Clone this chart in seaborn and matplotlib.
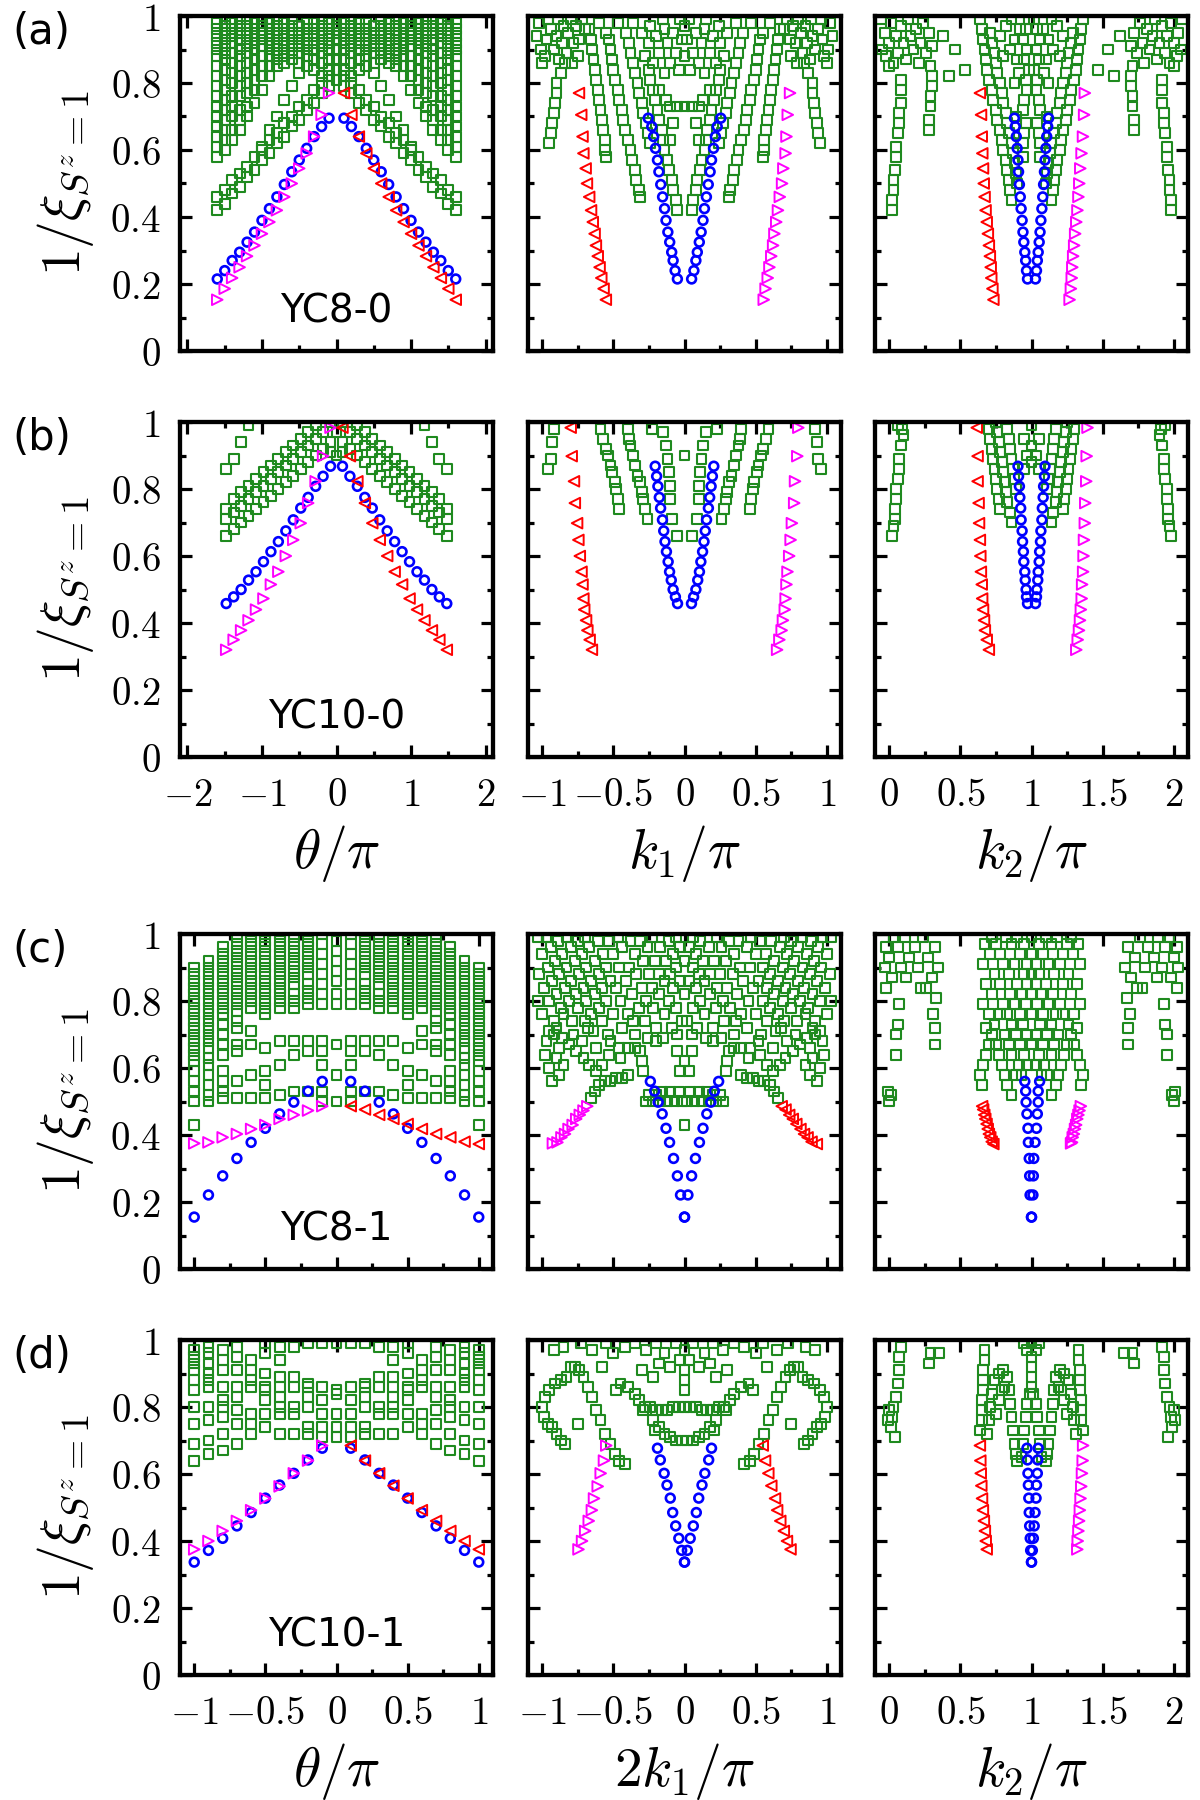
import matplotlib
matplotlib.use("Agg")
import matplotlib.pyplot as plt
import seaborn as sns
import pandas as pd
from matplotlib.ticker import MultipleLocator

sns.set_theme(style="ticks", rc={"axes.edgecolor": "black", "xtick.color": "black",
                                 "ytick.color": "black", "text.color": "black",
                                 "axes.labelcolor": "black"})
plt.rcParams["font.family"] = ["DejaVu Sans"]
plt.rcParams["mathtext.fontset"] = "cm"

GREEN = "#1f8a1f"
BLUE = "#0000ff"
RED = "#ff0000"
MAGENTA = "#ff00ff"

# ---------------- row (a) YC8-0 ----------------
TH_A_L = [-1.6, -1.5, -1.4, -1.3, -1.2, -1.1, -1.0, -0.9, -0.8, -0.7, -0.6, -0.5, -0.4, -0.3, -0.2, -0.1]
TH_A_R = [0.1, 0.2, 0.3, 0.4, 0.5, 0.6, 0.7, 0.8, 0.9, 1.0, 1.1, 1.2, 1.3, 1.4, 1.5, 1.6]
Y_A_BLUE = [0.215, 0.24, 0.27, 0.295, 0.325, 0.355, 0.39, 0.425, 0.46, 0.497, 0.535, 0.57, 0.605, 0.64, 0.67, 0.695,
            0.695, 0.67, 0.64, 0.605, 0.57, 0.535, 0.497, 0.46, 0.425, 0.39, 0.355, 0.325, 0.295, 0.27, 0.24, 0.215]
K1_A_BLUE = [0.05, 0.066, 0.08, 0.09, 0.104, 0.117, 0.13, 0.14, 0.154, 0.167, 0.18, 0.19, 0.204, 0.217, 0.23, 0.255,
             -0.255, -0.23, -0.217, -0.204, -0.19, -0.18, -0.167, -0.154, -0.14, -0.13, -0.117, -0.104, -0.09, -0.08, -0.066, -0.05]
K2_A_BLUE = [1.028, 1.035, 1.041, 1.047, 1.054, 1.06, 1.066, 1.073, 1.079, 1.085, 1.091, 1.095, 1.101, 1.107, 1.114, 1.12,
             0.88, 0.886, 0.893, 0.899, 0.905, 0.909, 0.915, 0.921, 0.927, 0.934, 0.94, 0.946, 0.953, 0.959, 0.965, 0.972]
Y_A_MAG = [0.153, 0.186, 0.218, 0.25, 0.283, 0.315, 0.35, 0.385, 0.42, 0.46, 0.5, 0.545, 0.59, 0.64, 0.705, 0.77]
K1_A_MAG = [0.557, 0.57, 0.585, 0.597, 0.61, 0.623, 0.632, 0.645, 0.657, 0.67, 0.686, 0.695, 0.711, 0.717, 0.726, 0.742]
K2_A_MAG = [1.268, 1.277, 1.283, 1.287, 1.293, 1.30, 1.307, 1.315, 1.323, 1.33, 1.336, 1.343, 1.352, 1.362, 1.37, 1.375]
Y_A_RED = [0.77, 0.705, 0.64, 0.59, 0.545, 0.5, 0.46, 0.42, 0.385, 0.35, 0.315, 0.283, 0.25, 0.218, 0.186, 0.153]
K1_A_RED = [-0.742, -0.726, -0.717, -0.711, -0.695, -0.686, -0.67, -0.657, -0.645, -0.632, -0.623, -0.61, -0.597, -0.585, -0.569, -0.553]
K2_A_RED = [0.637, 0.645, 0.65, 0.654, 0.659, 0.664, 0.67, 0.677, 0.685, 0.693, 0.70, 0.707, 0.713, 0.717, 0.725, 0.732]

# green squares, theta panel: one list per theta column (values x100)
GA_TH_Y = [
    [42, 46, 58, 61, 64, 67, 70, 73, 76, 79, 82, 85, 88, 90, 92, 94, 96, 98],
    [44, 48, 60, 63, 66, 69, 72, 75, 78, 81, 84, 87, 89, 91, 93, 95, 97, 99],
    [47, 51, 63, 66, 70, 73, 76, 80, 83, 86, 89, 92, 94, 96, 98],
    [49, 53, 66, 69, 72, 76, 79, 82, 85, 88, 90, 93, 95, 97, 99],
    [52, 55, 70, 73, 77, 80, 83, 86, 89, 91, 93, 95, 97, 99],
    [54, 58, 74, 78, 81, 84, 87, 90, 92, 94, 96, 98],
    [57, 60, 61, 78, 82, 85, 88, 91, 93, 95, 97, 99],
    [59, 63, 66, 82, 85, 88, 90, 92, 94, 96, 98],
    [62, 65, 70, 85, 87, 89, 91, 93, 95, 97, 99],
    [64, 68, 75, 86, 88, 90, 92, 94, 96, 98],
    [67, 70, 79, 87, 89, 91, 93, 95, 97, 99],
    [69, 73, 83, 86, 89, 91, 93, 95, 97],
    [72, 75, 85, 88, 90, 92, 94, 96, 98],
    [74, 78, 84, 87, 90, 92, 94, 96, 98],
    [77, 80, 82, 86, 89, 91, 93, 95, 97, 99],
    [79, 82, 84, 87, 90, 92, 94, 96, 98],
    [81, 84, 87, 90, 93, 95, 97, 99],
    [79, 82, 84, 87, 90, 92, 94, 96, 98],
    [77, 80, 82, 86, 89, 91, 93, 95, 97, 99],
    [74, 78, 84, 87, 90, 92, 94, 96, 98],
    [72, 75, 85, 88, 90, 92, 94, 96, 98],
    [69, 73, 83, 86, 89, 91, 93, 95, 97],
    [67, 70, 79, 87, 89, 91, 93, 95, 97, 99],
    [64, 68, 75, 86, 88, 90, 92, 94, 96, 98],
    [62, 65, 70, 85, 87, 89, 91, 93, 95, 97, 99],
    [59, 63, 66, 82, 85, 88, 90, 92, 94, 96, 98],
    [57, 60, 61, 78, 82, 85, 88, 91, 93, 95, 97, 99],
    [54, 58, 74, 78, 81, 84, 87, 90, 92, 94, 96, 98],
    [52, 55, 70, 73, 77, 80, 83, 86, 89, 91, 93, 95, 97, 99],
    [49, 53, 66, 69, 72, 76, 79, 82, 85, 88, 90, 93, 95, 97, 99],
    [47, 51, 63, 66, 70, 73, 76, 80, 83, 86, 89, 92, 94, 96, 98],
    [44, 48, 60, 63, 66, 69, 72, 75, 78, 81, 84, 87, 89, 91, 93, 95, 97, 99],
    [42, 46, 58, 61, 64, 67, 70, 73, 76, 79, 82, 85, 88, 90, 92, 94, 96, 98],
]
# green squares, momentum panels: (y x100, [x x100, ...]) rows
GA_K1_ROWS = [
    (42, [-5, 5]), (45, [-6, 6]), (46, [-31, 31]), (48, [-8, -32, 8, 32]),
    (51, [-9, -34, 9, 34]), (54, [-11, -35, 11, 35]), (57, [-12, -37, 12, 37]),
    (58, [-55, 55]), (60, [-14, -38, -56, 14, 38, 56]), (62, [-95, -24, 95, 24]),
    (63, [-15, -40, -10, -56, 15, 40, 10, 56]), (65, [-94, -26, 94, 26]),
    (66, [-16, -42, -57, 16, 42, 57]), (68, [-93, -27, -8, 93, 27, 8]),
    (69, [-18, -43, -58, 18, 43, 58]), (71, [-92, -29, 92, 29]),
    (72, [-19, -44, -59, 19, 44, 59]), (73, [-10, -5, 0, 5, 10]), (74, [-91, -30, 91, 30]),
    (75, [-21, -46, -60, -13, 21, 46, 60, 13]), (77, [-90, -32, 90, 32]),
    (78, [-22, -47, -61, -18, 22, 47, 61, 18]), (80, [-90, -33, 90, 33]),
    (81, [-24, -49, -62, 24, 49, 62]), (83, [-87, -35, -14, 87, 35, 14]),
    (84, [-25, -50, -63, -4, 25, 50, 63, 4]),
    (86, [-100, -84, -79, -36, -22, -10, 100, 84, 79, 36, 22, 10]),
    (87, [-88, -51, -64, 88, 51, 64]), (88, [-98, -75, -28, 0, 98, 75, 28]),
    (89, [-83, -38, -18, -6, 83, 38, 18, 6]), (90, [-101, -92, -52, -65, 101, 92, 52, 65]),
    (92, [-86, -78, -39, -25, -12, 86, 78, 39, 25, 12]),
    (93, [-97, -74, -53, -66, -2, 97, 74, 53, 66, 2]), (94, [-90, -20, -104, 90, 20, 104]),
    (95, [-82, -41, -55, -30, -8, 82, 41, 55, 30, 8]), (96, [-94, -67, -70, -14, 94, 67, 70, 14]),
    (97, [-85, -76, -24, 0, 85, 76, 24]), (98, [-102, -60, -47, -36, 102, 60, 47, 36]),
    (99, [-96, -89, -80, -72, -15, -3, 96, 89, 80, 72, 15, 3]),
]
GA_K2_ROWS = [
    (42, [2, 198]), (45, [2, 86, 198, 114]), (48, [3, 85, 197, 115]), (50, [90, 110]),
    (51, [3, 84, 197, 116]), (53, [89, 111]), (54, [4, 83, 196, 117]), (56, [88, 112]),
    (57, [82, 118]), (58, [5, 94, 195, 106]), (59, [87, 113]), (60, [80, 120]), (61, [5, 195]),
    (62, [86, 94, 114, 106]), (63, [79, 121]), (65, [6, 84, 95, 194, 116, 105]),
    (66, [28, 78, 172, 122]), (68, [7, 83, 96, 193, 117, 104]), (69, [28, 76, 172, 124]),
    (70, [89, 111]), (71, [7, 82, 193, 118]), (72, [75, 94, 125, 106]), (73, [29, 171]),
    (74, [8, 80, 192, 120]), (75, [73, 95, 127, 105]), (76, [29, 171]), (77, [79, 121]),
    (78, [8, 72, 97, 192, 128, 103]), (79, [30, 170]), (80, [78, 88, 122, 112]),
    (81, [8, 70, 96, 192, 130, 104]), (82, [30, 42, 170, 158]), (83, [76, 91, 124, 109]),
    (84, [69, 98, 53, 131, 102, 147]), (85, [0, 29, 200, 171]), (86, [3, 21, 75, 179, 197, 125]),
    (87, [12, 68, 95, 90, 188, 132, 105, 110]), (88, [-2, 80, 202, 120]),
    (89, [6, 26, 74, 194, 174, 126]), (90, [-5, 17, 46, 67, 85, 97, 205, 183, 154, 133, 115, 103]),
    (91, [30, 170]), (92, [0, 10, 22, 72, 200, 190, 178, 128]), (93, [66, 88, 94, 134, 112, 106]),
    (94, [5, 15, 38, 78, 195, 185, 162, 122]), (95, [-3, 28, 71, 203, 172, 129]),
    (96, [19, 65, 92, 96, 181, 135, 108, 104]), (97, [8, 82, 192, 118]), (98, [1, 24, 198, 176]),
    (99, [-6, 13, 64, 86, 98, 206, 187, 136, 114, 102]),
]

# ---------------- row (b) YC10-0 ----------------
TH_B_L = [-1.48, -1.38, -1.28, -1.18, -1.08, -0.98, -0.88, -0.78, -0.68, -0.58, -0.48, -0.38, -0.28, -0.18, -0.08]
TH_B_R = [0.08, 0.18, 0.28, 0.38, 0.48, 0.58, 0.68, 0.78, 0.88, 0.98, 1.08, 1.18, 1.28, 1.38, 1.48]
Y_B_BLUE = [0.458, 0.478, 0.50, 0.528, 0.553, 0.583, 0.613, 0.643, 0.675, 0.708, 0.743, 0.775, 0.808, 0.838, 0.868,
            0.868, 0.838, 0.808, 0.775, 0.743, 0.708, 0.675, 0.643, 0.613, 0.583, 0.553, 0.528, 0.50, 0.478, 0.458]
K1_B_BLUE = [0.049, 0.064, 0.08, 0.093, 0.105, 0.115, 0.127, 0.137, 0.146, 0.155, 0.168, 0.177, 0.187, 0.196, 0.206,
             -0.206, -0.196, -0.187, -0.177, -0.168, -0.155, -0.146, -0.137, -0.127, -0.115, -0.105, -0.093, -0.08, -0.064, -0.049]
K2_B_BLUE = [1.028, 1.035, 1.038, 1.044, 1.047, 1.054, 1.057, 1.063, 1.066, 1.073, 1.076, 1.082, 1.085, 1.091, 1.095,
             0.905, 0.909, 0.915, 0.918, 0.924, 0.927, 0.934, 0.937, 0.943, 0.946, 0.953, 0.956, 0.962, 0.965, 0.972]
Y_B_MAG = [0.32, 0.35, 0.378, 0.408, 0.44, 0.473, 0.515, 0.553, 0.60, 0.648, 0.698, 0.758, 0.823, 0.898, 0.983]
K1_B_MAG = [0.651, 0.667, 0.683, 0.692, 0.705, 0.711, 0.717, 0.724, 0.736, 0.746, 0.755, 0.771, 0.777, 0.793, 0.80]
K2_B_MAG = [1.315, 1.325, 1.334, 1.341, 1.347, 1.353, 1.356, 1.363, 1.366, 1.369, 1.375, 1.378, 1.385, 1.388, 1.394]
Y_B_RED = [0.983, 0.898, 0.823, 0.758, 0.698, 0.648, 0.60, 0.553, 0.515, 0.473, 0.44, 0.408, 0.378, 0.35, 0.32]
K1_B_RED = [-0.80, -0.793, -0.777, -0.771, -0.755, -0.746, -0.736, -0.724, -0.717, -0.711, -0.705, -0.692, -0.683, -0.667, -0.651]
K2_B_RED = [0.615, 0.621, 0.621, 0.628, 0.631, 0.637, 0.64, 0.644, 0.65, 0.653, 0.659, 0.666, 0.672, 0.685, 0.70]

GB_TH_Y = [
    [66, 71, 74, 86], [68, 73, 77, 89], [70, 75, 79, 94], [72, 77, 81, 99],
    [74, 79, 83], [76, 81, 85], [78, 83, 87], [80, 85, 89], [82, 87, 91],
    [84, 89, 93], [86, 91, 95], [88, 93, 97], [90, 95, 99], [92, 97],
    [91, 94, 100],
    [90, 97],
    [91, 94, 100],
    [92, 97], [90, 95, 99], [88, 93, 97], [86, 91, 95], [84, 89, 93],
    [82, 87, 91], [80, 85, 89], [78, 83, 87], [76, 81, 85], [74, 79, 83],
    [72, 77, 81, 99], [70, 75, 79, 94], [68, 73, 77, 89], [66, 71, 74, 86],
]
GB_K1_ROWS = [
    (66, [-5, 5]), (71, [-26, -9, 26, 9]), (74, [-28, -46, 28, 46]), (77, [-29, -47, -10, 29, 47, 10]),
    (79, [-30, 30]), (80, [-48, 48]), (81, [-10, 10]), (82, [-31, -49, 31, 49]), (84, [-33, 33]),
    (85, [-51, -11, 51, 11]), (86, [-96, 96]), (87, [-35, -52, 35, 52]), (89, [-94, -12, 94, 12]),
    (90, [-36, -54, 0, 36, 54]), (92, [-55, 55]), (93, [-38, -13, 38, 13]), (94, [-93, 93]),
    (95, [-39, -57, 39, 57]), (97, [-15, 15]), (98, [-92, -40, -59, -23, 92, 40, 59, 23]),
]
GB_K2_ROWS = [
    (66, [2, 198]), (69, [3, 197]), (70, [86, 114]), (71, [4, 196]), (73, [85, 115]),
    (74, [4, 78, 196, 122]), (76, [83, 117]), (77, [5, 77, 195, 123]), (79, [82, 118]),
    (80, [5, 76, 89, 195, 124, 111]), (82, [81, 119]), (83, [6, 75, 88, 194, 125, 112]),
    (85, [80, 120]), (86, [7, 74, 87, 95, 193, 126, 113, 105]), (88, [79, 100, 121]),
    (89, [7, 73, 86, 193, 127, 114]), (90, [97, 103]), (91, [78, 122]), (92, [72, 85, 128, 115]),
    (93, [8, 100, 192]), (94, [77, 123]), (95, [71, 84, 95, 129, 116, 105]), (96, [10, 190]),
    (97, [76, 124]), (98, [9, 70, 83, 191, 130, 117]), (99, [6, 100, 194]), (100, [75, 125]),
]

# ---------------- row (c) YC8-1 ----------------
TH_C_L = [-1.0, -0.9, -0.8, -0.7, -0.6, -0.5, -0.4, -0.3, -0.2, -0.1]
TH_C_R = [0.1, 0.2, 0.3, 0.4, 0.5, 0.6, 0.7, 0.8, 0.9, 1.0]
Y_C_BLUE = [0.155, 0.221, 0.278, 0.33, 0.378, 0.42, 0.463, 0.498, 0.531, 0.56,
            0.56, 0.531, 0.498, 0.463, 0.42, 0.378, 0.33, 0.278, 0.221, 0.155]
K1_C_BLUE = [0.0, 0.024, 0.05, 0.077, 0.105, 0.13, 0.157, 0.185, 0.21, 0.24,
             -0.24, -0.21, -0.185, -0.157, -0.13, -0.105, -0.077, -0.05, -0.028, 0.0]
K2_C_BLUE = [1.0, 1.01, 1.013, 1.016, 1.025, 1.035, 1.041, 1.047, 1.047, 1.057,
             0.953, 0.959, 0.962, 0.968, 0.975, 0.978, 0.984, 0.987, 0.99, 1.0]
Y_C_MAG = [0.375, 0.378, 0.393, 0.403, 0.418, 0.43, 0.448, 0.46, 0.473, 0.486]
K1_C_MAG = [-0.925, -0.893, -0.865, -0.84, -0.815, -0.786, -0.761, -0.736, -0.71, -0.683]
K2_C_MAG = [1.278, 1.285, 1.29, 1.298, 1.306, 1.314, 1.322, 1.33, 1.338, 1.347]
Y_C_RED = [0.486, 0.476, 0.46, 0.448, 0.433, 0.418, 0.403, 0.393, 0.38, 0.373]
K1_C_RED = [0.683, 0.71, 0.736, 0.761, 0.786, 0.815, 0.84, 0.865, 0.893, 0.93]
K2_C_RED = [0.653, 0.66, 0.668, 0.675, 0.684, 0.692, 0.70, 0.71, 0.72, 0.732]

GC_TH_Y = [
    [43, 50, 53, 56, 59, 62, 64, 66, 68, 70, 72, 74, 76, 78, 80, 82, 84, 86, 88, 90],
    [50, 52, 55, 58, 61, 63, 66, 68, 70, 72, 74, 76, 78, 80, 82, 84, 86, 88, 90, 92],
    [51, 53, 56, 59, 64, 67, 70, 73, 76, 78, 80, 82, 84, 86, 88, 90, 92, 94, 96],
    [51, 56, 65, 67, 72, 74, 77, 79, 81, 83, 85, 87, 89, 91, 93, 95, 97, 99],
    [51, 58, 67, 71, 78, 80, 82, 84, 86, 88, 90, 92, 94, 96, 98, 100],
    [51, 55, 59, 66, 76, 78, 80, 82, 84, 86, 88, 90, 92, 94, 96, 98, 100],
    [52, 61, 68, 78, 80, 82, 84, 86, 88, 90, 92, 94, 96, 98, 100],
    [53, 64, 68, 78, 80, 82, 85, 87, 89, 91, 93, 95, 97, 99],
    [53, 65, 68, 79, 81, 83, 85, 88, 90, 92, 94, 96, 98, 100],
    [50, 53, 61, 65, 68, 79, 82, 85, 88, 91, 94, 97, 100],
    [50, 58, 67, 79, 82, 86, 89, 92, 95, 98],
    [50, 53, 61, 65, 68, 79, 82, 85, 88, 91, 94, 97, 100],
    [53, 65, 68, 79, 81, 83, 85, 88, 90, 92, 94, 96, 98, 100],
    [53, 64, 68, 78, 80, 82, 85, 87, 89, 91, 93, 95, 97, 99],
    [52, 61, 68, 78, 80, 82, 84, 86, 88, 90, 92, 94, 96, 98, 100],
    [51, 55, 59, 66, 76, 78, 80, 82, 84, 86, 88, 90, 92, 94, 96, 98, 100],
    [51, 58, 67, 71, 78, 80, 82, 84, 86, 88, 90, 92, 94, 96, 98, 100],
    [51, 56, 65, 67, 72, 74, 77, 79, 81, 83, 85, 87, 89, 91, 93, 95, 97, 99],
    [51, 53, 56, 59, 64, 67, 70, 73, 76, 78, 80, 82, 84, 86, 88, 90, 92, 94, 96],
    [50, 52, 55, 58, 61, 63, 66, 68, 70, 72, 74, 76, 78, 80, 82, 84, 86, 88, 90, 92],
    [43, 50, 53, 56, 59, 62, 64, 66, 68, 70, 72, 74, 76, 78, 80, 82, 84, 86, 88, 90],
]
GC_K1_ROWS = [
    (43, [0]), (50, [-27, -22, -17, -12, -7, -2, 2, 7, 12, 17, 22, 27]), (51, [-66, 66]),
    (52, [-25, -20, 20, 25]), (53, [-63, -16, -10, -4, 4, 10, 16, 63]), (55, [-60, 60]),
    (56, [-93, -56, -52, 52, 56, 93]), (57, [-48, -44, 44, 48]), (58, [-88, -40, 40, 88]),
    (59, [-62, -29, -3, 3, 29, 62]), (60, [-95, 95]), (61, [-85, -67, -58, 58, 67, 85]),
    (62, [-30, 0, 30]), (63, [-90, -71, -45, 45, 71, 90]), (64, [-98, -53, 53, 98]),
    (65, [-76, -31, -5, 5, 31, 76]), (66, [-88, -62, -46, -40, -35, 35, 40, 46, 62, 88]),
    (67, [-81, 81]), (68, [-97, -72, -52, -20, 20, 52, 72, 97]), (69, [-86, -26, -15, 15, 26, 86]),
    (70, [-92, -78, -54, -35, -5, 5, 35, 54, 78, 92]), (71, [-95, -64, 64, 95]),
    (72, [-90, -68, -44, -20, -9, 9, 20, 44, 68, 90]),
    (74, [-92, -79, -70, -58, -36, -28, -2, 2, 28, 36, 58, 70, 79, 92]),
    (76, [-100, -85, -66, -50, -40, -14, 14, 40, 50, 66, 85, 100]),
    (78, [-87, -75, -60, -32, -22, -6, 6, 22, 32, 60, 75, 87]),
    (80, [-103, -95, -81, -69, -55, -45, -27, -11, 11, 27, 45, 55, 69, 81, 95, 103]),
    (82, [-90, -76, -63, -37, -18, 0, 18, 37, 63, 76, 90]),
    (84, [-99, -84, -71, -58, -48, -30, -23, -8, 8, 23, 30, 48, 58, 71, 84, 99]),
    (86, [-93, -80, -66, -52, -41, -14, -3, 3, 14, 41, 52, 66, 80, 93]),
    (88, [-102, -88, -74, -60, -34, -25, -18, -10, 10, 18, 25, 34, 60, 74, 88, 102]),
    (90, [-96, -83, -69, -55, -46, -39, -6, 6, 39, 46, 55, 69, 83, 96]),
    (92, [-91, -77, -63, -29, -21, -13, 0, 13, 21, 29, 63, 77, 91]),
    (94, [-100, -86, -72, -57, -50, -35, -8, 8, 35, 50, 57, 72, 86, 100]),
    (96, [-94, -80, -67, -44, -26, -17, -3, 3, 17, 26, 44, 67, 80, 94]),
    (98, [-89, -75, -61, -53, -38, -31, -11, 11, 31, 38, 53, 61, 75, 89]),
    (99, [-103, -97, -83, -70, -47, -23, -6, 6, 23, 47, 70, 83, 97, 103]),
]
GC_K2_ROWS = [
    (50, [0, 200]), (52, [1, 86, 114, 199]), (53, [-1, 201]), (55, [65, 83, 117, 135]),
    (58, [64, 81, 89, 93, 107, 111, 119, 136]), (61, [66, 79, 91, 97, 103, 109, 121, 134]),
    (64, [5, 68, 77, 86, 95, 105, 114, 123, 132, 195]),
    (67, [32, 70, 75, 84, 92, 100, 108, 116, 125, 130, 168]),
    (70, [5, 72, 81, 89, 97, 103, 111, 119, 128, 195]), (72, [32, 68, 168, 132]),
    (73, [6, 74, 86, 94, 106, 114, 126, 194]),
    (76, [31, 70, 78, 83, 92, 100, 108, 117, 122, 130, 169]),
    (79, [7, 66, 80, 88, 96, 104, 112, 120, 134, 193]), (81, [33, 167]),
    (82, [72, 85, 93, 100, 107, 115, 128]), (84, [-2, 22, 26, 178, 174, 202]),
    (85, [68, 78, 90, 97, 103, 110, 122, 132]), (87, [2, 12, 30, 198, 188, 170]),
    (88, [74, 84, 95, 100, 105, 116, 126]), (90, [-3, 8, 20, 34, 203, 192, 180, 166]),
    (91, [66, 80, 88, 97, 103, 112, 120, 134]), (93, [0, 14, 27, 200, 186, 173]),
    (94, [71, 78, 92, 100, 108, 122, 129]), (96, [-2, 6, 18, 32, 202, 194, 182, 168]),
    (97, [67, 75, 86, 95, 105, 114, 125, 133]),
    (99, [3, 11, 24, 72, 82, 90, 100, 110, 118, 128, 197, 189, 176]),
]

# ---------------- row (d) YC10-1 ----------------
TH_D_L = [-1.0, -0.9, -0.8, -0.7, -0.6, -0.5, -0.4, -0.3, -0.2, -0.1]
TH_D_R = [0.1, 0.2, 0.3, 0.4, 0.5, 0.6, 0.7, 0.8, 0.9, 1.0]
Y_D_BLUE = [0.337, 0.372, 0.408, 0.445, 0.485, 0.528, 0.567, 0.602, 0.642, 0.677,
            0.677, 0.642, 0.602, 0.567, 0.528, 0.485, 0.445, 0.408, 0.372, 0.337]
K1_D_BLUE = [0.0, 0.02, 0.04, 0.062, 0.083, 0.10, 0.123, 0.143, 0.17, 0.19,
             -0.19, -0.17, -0.143, -0.123, -0.10, -0.083, -0.062, -0.04, -0.02, 0.0]
K2_D_BLUE = [1.0, 1.006, 1.013, 1.019, 1.025, 1.032, 1.035, 1.041, 1.044, 1.047,
             0.968, 0.972, 0.975, 0.978, 0.981, 0.984, 0.987, 0.991, 0.994, 1.0]
Y_D_MAG = [0.375, 0.40, 0.43, 0.46, 0.492, 0.527, 0.563, 0.602, 0.64, 0.685]
K1_D_MAG = [-0.745, -0.72, -0.698, -0.673, -0.651, -0.636, -0.61, -0.589, -0.566, -0.55]
K2_D_MAG = [1.322, 1.325, 1.33, 1.335, 1.34, 1.345, 1.35, 1.355, 1.36, 1.363]
Y_D_RED = [0.685, 0.64, 0.602, 0.565, 0.527, 0.492, 0.46, 0.43, 0.40, 0.375]
K1_D_RED = [0.55, 0.566, 0.589, 0.61, 0.636, 0.651, 0.673, 0.698, 0.72, 0.745]
K2_D_RED = [0.637, 0.64, 0.643, 0.647, 0.652, 0.658, 0.665, 0.672, 0.678, 0.685]

GD_TH_Y = [
    [64, 69, 75, 80, 85, 88, 91, 93, 95, 97], [66, 70, 76, 80, 86, 88, 90, 93, 96, 98],
    [67, 72, 77, 80, 82, 86, 91, 94, 97], [69, 75, 79, 83, 86, 91, 95, 98],
    [72, 75, 78, 86, 88, 91, 94], [74, 78, 82, 85, 86, 90, 96, 99],
    [72, 78, 80, 83, 86, 89, 94, 98], [72, 78, 80, 86, 89, 98],
    [72, 74, 80, 83, 86, 87, 99], [71, 74, 78, 82, 86, 99],
    [71, 74, 78, 84, 85, 99],
    [71, 74, 78, 82, 86, 99], [72, 74, 80, 83, 86, 87, 99],
    [72, 78, 80, 86, 89, 98], [72, 78, 80, 83, 86, 89, 94, 98],
    [74, 78, 82, 85, 86, 90, 96, 99], [72, 75, 78, 86, 88, 91, 94],
    [69, 75, 79, 83, 86, 91, 95, 98], [67, 72, 77, 80, 82, 86, 91, 94, 97],
    [66, 70, 76, 80, 86, 88, 90, 93, 96, 98], [64, 69, 75, 80, 85, 88, 91, 93, 95, 97],
]
GD_K1_ROWS = [
    (63, [-42, 42]), (64, [-46, 46]), (66, [-49, 49]), (69, [-52, -84, 52, 84]),
    (70, [-87, -6, -2, 2, 6, 87]), (71, [-10, 10]), (72, [-56, -90, -14, 14, 56, 90]),
    (73, [-21, 21]), (74, [-93, -18, 18, 93]), (75, [-96, -75, 96, 75]), (76, [-59, -22, 22, 59]),
    (77, [-99, 99]), (79, [-62, -29, -20, -16, -12, 12, 16, 20, 29, 62]),
    (80, [-100, -28, -24, -8, -4, 0, 4, 8, 24, 28, 100]), (82, [-32, 32]), (83, [-98, -65, 65, 98]),
    (84, [-35, 35]), (85, [-95, -48, 0, 48, 95]), (86, [-68, -40, 40, 68]), (87, [-91, -45, 45, 91]),
    (88, [-87, 0, 87]), (89, [-83, -71, -22, 22, 71, 83]), (91, [-74, -30, 0, 30, 74]),
    (92, [-80, -77, -58, -10, 10, 58, 77, 80]), (93, [-18, 18]), (94, [-3, 3]),
    (96, [-50, -14, 14, 50]), (97, [-92, -65, -27, 0, 27, 65, 92]), (98, [-85, -42, 42, 85]),
    (99, [-73, -55, -35, -20, -6, 6, 20, 35, 55, 73]),
]
GD_K2_ROWS = [
    (64, [90, 110]), (65, [93, 107]), (66, [89, 111]), (69, [88, 94, 106, 112]), (71, [4, 196]),
    (72, [69, 131]), (73, [64, 87, 95, 105, 113, 136]), (74, [1, 199]),
    (76, [-1, 65, 70, 135, 130, 201]), (77, [2, 86, 96, 104, 114, 198]), (78, [75, 125]),
    (79, [0, 65, 200, 135]), (80, [3, 71, 197, 129]), (81, [85, 97, 103, 115]),
    (82, [65, 77, 123, 135]), (83, [5, 195]), (84, [72, 99, 101, 128]),
    (85, [66, 79, 84, 116, 121, 134]), (86, [81, 100, 119]), (87, [6, 194]),
    (88, [66, 74, 126, 134]), (89, [83, 100, 117]), (90, [77, 123]),
    (91, [7, 66, 80, 120, 134, 193]), (92, [100]), (93, [28, 172]), (94, [67, 133]),
    (95, [7, 100, 193]), (96, [29, 35, 165, 171]), (97, [67, 97, 103, 133]), (98, [8, 192]),
    (99, [100, 95, 105]),
]


def cols_to_df(xs, cols):
    px, py = [], []
    for x, col in zip(xs, cols):
        px += [x] * len(col)
        py += [v / 100 for v in col]
    return pd.DataFrame({"x": px, "y": py})


def rows_to_df(rows):
    px, py = [], []
    for y, row in rows:
        px += [v / 100 for v in row]
        py += [y / 100] * len(row)
    return pd.DataFrame({"x": px, "y": py})


ROWS = [
    dict(tag="(a)", name="YC8-0", thl=TH_A_L, thr=TH_A_R,
         blue=(Y_A_BLUE, K1_A_BLUE, K2_A_BLUE), mag=(Y_A_MAG, K1_A_MAG, K2_A_MAG),
         red=(Y_A_RED, K1_A_RED, K2_A_RED), gth=GA_TH_Y, gk1=GA_K1_ROWS, gk2=GA_K2_ROWS,
         wide=True, xlab=None),
    dict(tag="(b)", name="YC10-0", thl=TH_B_L, thr=TH_B_R,
         blue=(Y_B_BLUE, K1_B_BLUE, K2_B_BLUE), mag=(Y_B_MAG, K1_B_MAG, K2_B_MAG),
         red=(Y_B_RED, K1_B_RED, K2_B_RED), gth=GB_TH_Y, gk1=GB_K1_ROWS, gk2=GB_K2_ROWS,
         wide=True, xlab=[r"$\theta/\pi$", r"$k_1/\pi$", r"$k_2/\pi$"]),
    dict(tag="(c)", name="YC8-1", thl=TH_C_L, thr=TH_C_R,
         blue=(Y_C_BLUE, K1_C_BLUE, K2_C_BLUE), mag=(Y_C_MAG, K1_C_MAG, K2_C_MAG),
         red=(Y_C_RED, K1_C_RED, K2_C_RED), gth=GC_TH_Y, gk1=GC_K1_ROWS, gk2=GC_K2_ROWS,
         wide=False, xlab=None),
    dict(tag="(d)", name="YC10-1", thl=TH_D_L, thr=TH_D_R,
         blue=(Y_D_BLUE, K1_D_BLUE, K2_D_BLUE), mag=(Y_D_MAG, K1_D_MAG, K2_D_MAG),
         red=(Y_D_RED, K1_D_RED, K2_D_RED), gth=GD_TH_Y, gk1=GD_K1_ROWS, gk2=GD_K2_ROWS,
         wide=False, xlab=[r"$\theta/\pi$", r"$2k_1/\pi$", r"$k_2/\pi$"]),
]

FIG_W, FIG_H = 1200, 1800
LEFTS = [180, 528, 875]
TOPS = [16, 422, 934, 1340]
PW, PH = 313, 335

TICKS_TH_WIDE = ([-2, -1, 0, 1, 2], ["$-2$", "$-1$", "$0$", "$1$", "$2$"], 0.5, (-2.1, 2.1))
TICKS_TH = ([-1, -0.5, 0, 0.5, 1], ["$-1$", "$-0.5$", "$0$", "$0.5$", "$1$"], 0.25, (-1.1, 1.1))
TICKS_K1 = ([-1, -0.5, 0, 0.5, 1], ["$-1$", "$-0.5$", "$0$", "$0.5$", "$1$"], 0.25, (-1.1, 1.1))
TICKS_K2 = ([0, 0.5, 1, 1.5, 2], ["$0$", "$0.5$", "$1$", "$1.5$", "$2$"], 0.25, (-0.1, 2.1))
Y_TICKS = [0, 0.2, 0.4, 0.6, 0.8, 1]
Y_LABELS = ["$0$", "$0.2$", "$0.4$", "$0.6$", "$0.8$", "$1$"]

fig = plt.figure(figsize=(FIG_W / 100, FIG_H / 100), dpi=100)

for r, row in enumerate(ROWS):
    th_all = row["thl"] + row["thr"]
    green_th = cols_to_df(row["thl"] + [0.0] + row["thr"], row["gth"])
    panels = [
        (green_th, th_all, row["thl"], row["thr"], 0, TICKS_TH_WIDE if row["wide"] else TICKS_TH),
        (rows_to_df(row["gk1"]), row["blue"][1], row["mag"][1], row["red"][1], 1, TICKS_K1),
        (rows_to_df(row["gk2"]), row["blue"][2], row["mag"][2], row["red"][2], 2, TICKS_K2),
    ]
    for green, bx, mx, rx, c, ticks in panels:
        ax = fig.add_axes([LEFTS[c] / FIG_W, 1 - (TOPS[r] + PH) / FIG_H, PW / FIG_W, PH / FIG_H])
        sns.scatterplot(data=green, x="x", y="y", marker="s", s=50, color=GREEN,
                        facecolor="none", edgecolor=GREEN, linewidth=1.5, legend=False, ax=ax)
        sns.scatterplot(x=bx, y=row["blue"][0], marker="o", s=40, color=BLUE,
                        facecolor="none", edgecolor=BLUE, linewidth=1.9, legend=False, ax=ax)
        sns.scatterplot(x=mx, y=row["mag"][0], marker=">", s=58, color=MAGENTA,
                        facecolor="none", edgecolor=MAGENTA, linewidth=1.4, legend=False, ax=ax)
        sns.scatterplot(x=rx, y=row["red"][0], marker="<", s=58, color=RED,
                        facecolor="none", edgecolor=RED, linewidth=1.4, legend=False, ax=ax)

        major, labels, minor, lim = ticks
        ax.set_xlim(*lim)
        ax.set_ylim(0, 1)
        ax.set_xticks(major)
        ax.xaxis.set_minor_locator(MultipleLocator(minor))
        ax.set_yticks(Y_TICKS)
        ax.yaxis.set_minor_locator(MultipleLocator(0.1))
        ax.set_xticklabels(labels if row["xlab"] else [])
        ax.set_yticklabels(Y_LABELS if c == 0 else [])
        ax.tick_params(which="both", direction="in", top=True, right=True,
                       width=2.3, labelsize=28, pad=14)
        ax.tick_params(which="major", length=8.5)
        ax.tick_params(which="minor", length=4.5)
        for sp in ax.spines.values():
            sp.set_linewidth(3.1)
        ax.set_xlabel(row["xlab"][c] if row["xlab"] else "", fontsize=40, labelpad=6)
        if c == 0:
            ax.set_ylabel(r"$1/\xi_{S^z=1}$", fontsize=40, labelpad=10)
            ax.text(0.5, 0.085, row["name"], transform=ax.transAxes, ha="center",
                    va="baseline", fontsize=28)
        else:
            ax.set_ylabel("")

    fig.text(12 / FIG_W, 1 - (TOPS[r] - 5) / FIG_H, row["tag"], ha="left", va="top", fontsize=30)

fig.savefig("out.png", dpi=100)
